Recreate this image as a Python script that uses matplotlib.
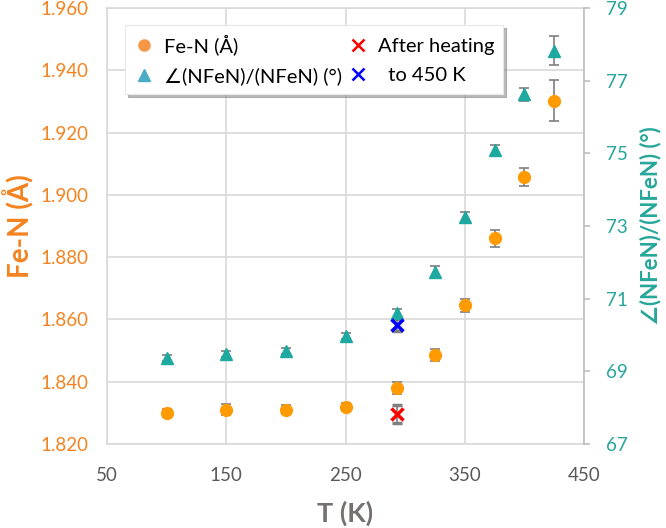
import matplotlib.pyplot as plt
from matplotlib.lines import Line2D

plt.rcParams['font.family'] = ['Lato', 'DejaVu Sans']

# temperatures (K)
T = [100, 150, 200, 250, 293, 325, 350, 375, 400, 425]
# Fe-N distance (A) and error
fen = [1.830, 1.831, 1.831, 1.832, 1.838, 1.8485, 1.8645, 1.886, 1.9057, 1.9302]
fen_err = [0.0013, 0.0018, 0.0015, 0.0013, 0.002, 0.002, 0.002, 0.0027, 0.003, 0.0066]
# angle ratio (deg) and error
ang = [69.37, 69.48, 69.57, 69.97, 70.6, 71.74, 73.24, 75.09, 76.63, 77.82]
ang_err = [0.08, 0.08, 0.08, 0.08, 0.12, 0.15, 0.15, 0.15, 0.18, 0.4]
# after heating to 450 K
T_after = [293]
fen_after = [1.8296]
fen_after_err = [0.003]
ang_after = [70.27]
ang_after_err = [0.17]

orange = '#FF9A00'
orange_txt = '#F4831F'
teal = '#1EA9A0'
teal_txt = '#26A69A'
gray = '#7F7F7F'
grid = '#D9D9D9'

fig = plt.figure(figsize=(6.66, 5.28), dpi=100)
ax = fig.add_axes([0.1607, 0.1591, 0.7162, 0.8257])
ax2 = ax.twinx()

ax.errorbar(T, fen, yerr=fen_err, fmt='o', color=orange, ms=8.5,
            ecolor=gray, elinewidth=1.2, capsize=3.5, capthick=1.2, zorder=3)
ax.errorbar(T_after, fen_after, yerr=fen_after_err, fmt='x', color='#FF0000', ms=9, mew=2.5,
            ecolor=gray, elinewidth=1.2, capsize=3.5, capthick=1.2, zorder=3)
ax2.errorbar(T, ang, yerr=ang_err, fmt='^', color=teal, ms=8,
             ecolor=gray, elinewidth=1.2, capsize=3.5, capthick=1.2, zorder=3)
ax2.errorbar(T_after, ang_after, yerr=ang_after_err, fmt='x', color='#0000FF', ms=9, mew=2.5,
             ecolor=gray, elinewidth=1.2, capsize=3.5, capthick=1.2, zorder=3)

ax.set_xlim(50, 450)
ax.set_ylim(1.82, 1.96)
ax2.set_ylim(67, 79)
ax.set_xticks([50, 150, 250, 350, 450])
ax.set_yticks([1.82 + 0.02 * i for i in range(8)])
ax.set_yticklabels(['%.3f' % (1.82 + 0.02 * i) for i in range(8)])
ax2.set_yticks([67, 69, 71, 73, 75, 77, 79])

ax.grid(True, color=grid, lw=1.2)
ax.set_axisbelow(True)
for s in ['left', 'bottom', 'top']:
    ax.spines[s].set_color(grid)
    ax.spines[s].set_linewidth(1.2)
ax.spines['right'].set_visible(False)
for s in ['left', 'bottom', 'top']:
    ax2.spines[s].set_visible(False)
ax2.spines['right'].set_color('#BFBFBF')
ax2.spines['right'].set_linewidth(1.2)

ax.tick_params(axis='y', length=0, labelsize=13.5, labelcolor=orange_txt, pad=13.5)
ax.tick_params(axis='x', length=0, labelsize=13.5, labelcolor='#595959', pad=16.5)
ax2.tick_params(axis='y', length=4.5, color='#BFBFBF', width=1.2, labelsize=13.5,
                labelcolor=teal_txt, pad=11)

ax.set_xlabel('T (K)', fontsize=19.5, fontweight='bold', color='#767171', labelpad=12)
ax.set_ylabel('Fe-N (Å)', fontsize=20, fontweight='bold', color=orange_txt, labelpad=4)
ax2.set_ylabel('∠(NFeN)/(NFeN) (°)', fontsize=16, fontweight='bold', color=teal_txt,
               rotation=90, labelpad=9)

handles = [
    Line2D([], [], ls='none', marker='o', color='#F79646', ms=8),
    Line2D([], [], ls='none', marker='^', color='#4BACC6', ms=8),
    Line2D([], [], ls='none', marker='x', color='#FF0000', ms=9, mew=1.8),
    Line2D([], [], ls='none', marker='x', color='#0000FF', ms=9, mew=1.8),
]
labels = ['Fe-N (Å)', '∠(NFeN)/(NFeN) (°)', 'After heating', '  to 450 K']
leg = ax2.legend(handles, labels, ncol=2, loc='upper left',
                 bbox_to_anchor=(0.038, 0.961), borderaxespad=0, fontsize=14.5,
                 frameon=True, fancybox=False, shadow={'color': '0.55', 'alpha': 0.6},
                 handlelength=1.0, handletextpad=0.5, columnspacing=0.25,
                 borderpad=0.45, labelspacing=0.6)
leg.get_frame().set_edgecolor('#E8E8E8')
leg.get_frame().set_linewidth(0.8)

fig.savefig('out.png', dpi=100)
